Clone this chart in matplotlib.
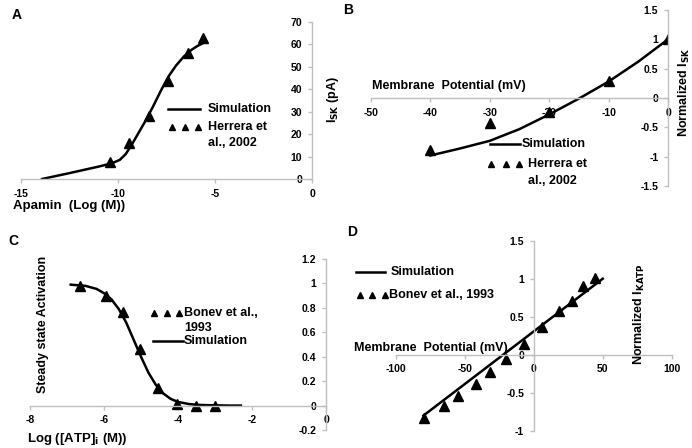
import matplotlib
matplotlib.use("Agg")
import matplotlib.pyplot as plt

plt.rcParams['font.family'] = ['Liberation Sans', 'DejaVu Sans']
plt.rcParams['font.weight'] = 'bold'

W, H = 692, 448

# panel A: apamin dose response
a_sim_x = [-13.9, -12.5, -11.0, -10.3, -9.9, -9.6, -9.3, -9.0, -8.6, -8.2, -7.8, -7.4, -7.0, -6.6, -6.2, -5.9, -5.6]
a_sim_y = [0.0, 2.6, 5.5, 7.0, 8.5, 11.0, 15.0, 19.5, 25.5, 32.0, 39.0, 45.5, 50.5, 54.5, 57.5, 59.2, 60.5]
a_exp_x = [-10.4, -9.4, -8.4, -7.4, -6.4, -5.6]
a_exp_y = [7.4, 15.9, 28.2, 43.6, 56.0, 62.6]

# panel B: SK IV relation
b_sim_x = [-40, -35, -30, -25, -20, -15, -10, -5, 0]
b_sim_y = [-0.98, -0.86, -0.73, -0.53, -0.28, -0.01, 0.28, 0.62, 1.0]
b_exp_x = [-40, -30, -20, -10, 0]
b_exp_y = [-0.89, -0.43, -0.245, 0.295, 1.0]

# panel C: ATP inhibition
c_sim_x = [-6.9, -6.5, -6.2, -6.0, -5.8, -5.6, -5.4, -5.2, -5.0, -4.8, -4.6, -4.4, -4.2, -4.0, -3.7, -3.4, -3.0, -2.6, -2.3]
c_sim_y = [0.99, 0.98, 0.955, 0.92, 0.87, 0.79, 0.68, 0.54, 0.40, 0.27, 0.17, 0.10, 0.055, 0.03, 0.012, 0.005, 0.002, 0.0, 0.0]
c_exp_x = [-6.65, -5.95, -5.5, -5.03, -4.53, -4.03, -3.52, -3.0]
c_exp_y = [0.975, 0.893, 0.765, 0.465, 0.143, 0.014, 0.0, 0.0]

# panel D: KATP IV relation
d_sim_x = [-80, 50]
d_sim_y = [-0.8, 1.0]
d_exp_x = [-80, -65, -55, -42, -32, -20, -7, 6, 18, 28, 36, 44]
d_exp_y = [-0.833, -0.67, -0.54, -0.386, -0.232, -0.057, 0.141, 0.36, 0.571, 0.71, 0.9, 1.01]

gray = '#bfbfbf'


def make_axes(fig, x0, x1, y0, y1):
    # pixel box -> figure fraction
    return fig.add_axes([x0 / W, 1 - y1 / H, (x1 - x0) / W, (y1 - y0) / H])


def style(ax, xlim, ylim, xticks, yticks):
    ax.set_xlim(*xlim)
    ax.set_ylim(*ylim)
    ax.patch.set_alpha(0)
    for s in ['top', 'right']:
        ax.spines[s].set_visible(False)
    ax.spines['left'].set_position(('data', 0))
    ax.spines['bottom'].set_position(('data', 0))
    for s in ['left', 'bottom']:
        ax.spines[s].set_color(gray)
        ax.spines[s].set_linewidth(1.0)
    ax.set_xticks(xticks)
    ax.set_yticks(yticks)
    ax.tick_params(length=3, width=1, color=gray, labelsize=7.5, pad=4)
    ax.set_xticklabels([f"{t:g}" for t in xticks], fontweight='bold')
    ax.set_yticklabels([f"{t:g}" for t in yticks], fontweight='bold')


def legend_line(fig, x0, x1, y):
    fig.add_artist(plt.Line2D([x0 / W, x1 / W], [1 - y / H, 1 - y / H], color='black', lw=1.8))


def legend_tris(fig, xs, y):
    fig.add_artist(plt.Line2D([x / W for x in xs], [1 - y / H] * len(xs), ls='none',
                              marker='^', color='black', markersize=5))


def ftext(fig, x, y, s, size=9, **kw):
    fig.text(x / W, 1 - y / H, s, fontsize=size, fontweight='bold', va='center', **kw)


fig = plt.figure(figsize=(6.92, 4.48), dpi=100)

# A
ax = make_axes(fig, 20.7, 312, 21.7, 179)
style(ax, (-15, 0), (0, 70), [-15, -10, -5, 0], list(range(0, 71, 10)))
ax.plot(a_sim_x, a_sim_y, color='black', lw=1.8)
ax.plot(a_exp_x, a_exp_y, ls='none', marker='^', color='black', markersize=7)
ftext(fig, 12, 15, 'A', size=10)
ftext(fig, 13, 206, 'Apamin  (Log (M))', size=9.5)
ftext(fig, 333, 100, r'I$_{\mathbf{SK}}$ (pA)', rotation=90, ha='center')
legend_line(fig, 168, 200, 109)
ftext(fig, 208, 109, 'Simulation')
legend_tris(fig, [172, 185, 198], 127)
ftext(fig, 208, 127, 'Herrera et')
ftext(fig, 208, 143, 'al., 2002')

# B
ax = make_axes(fig, 371, 668, 10, 186)
style(ax, (-50, 0), (-1.5, 1.5), [-50, -40, -30, -20, -10, 0], [-1.5, -1, -0.5, 0, 0.5, 1, 1.5])
ax.plot(b_sim_x, b_sim_y, color='black', lw=1.8)
ax.plot(b_exp_x, b_exp_y, ls='none', marker='^', color='black', markersize=7)
ftext(fig, 343, 10, 'B', size=10)
ftext(fig, 372, 86, 'Membrane  Potential (mV)')
ftext(fig, 684, 92, r'Normalized I$_{\mathbf{SK}}$', rotation=90, ha='center')
legend_line(fig, 490, 520, 144)
ftext(fig, 522, 144, 'Simulation')
legend_tris(fig, [491, 506, 519], 164)
ftext(fig, 528, 164, 'Herrera et')
ftext(fig, 528, 181, 'al., 2002')

# C
ax = make_axes(fig, 30, 326, 259, 430)
style(ax, (-8, 0), (-0.2, 1.2), [-8, -6, -4, -2, 0], [-0.2, 0, 0.2, 0.4, 0.6, 0.8, 1, 1.2])
ax.plot(c_sim_x, c_sim_y, color='black', lw=1.8)
ax.plot(c_exp_x, c_exp_y, ls='none', marker='^', color='black', markersize=7)
ftext(fig, 8, 241, 'C', size=10)
ftext(fig, 27, 439, r'Log ([ATP]$_{\mathbf{i}}$ (M))', size=9.5)
ftext(fig, 43, 324, 'Steady state Activation', rotation=90, ha='center')
legend_tris(fig, [154, 167, 179], 313)
ftext(fig, 184, 313, 'Bonev et al.,')
ftext(fig, 184, 328, '1993')
legend_line(fig, 153, 183, 341)
ftext(fig, 184, 341, 'Simulation')

# D
ax = make_axes(fig, 396, 671.7, 240.7, 430.7)
style(ax, (-100, 100), (-1, 1.5), [-100, -50, 0, 50, 100], [-1, -0.5, 0, 0.5, 1, 1.5])
ax.plot(d_sim_x, d_sim_y, color='black', lw=1.8)
ax.plot(d_exp_x, d_exp_y, ls='none', marker='^', color='black', markersize=7)
ftext(fig, 347, 232, 'D', size=10)
ftext(fig, 354, 348, 'Membrane  Potential (mV)')
ftext(fig, 639, 314, r'Normalized I$_{\mathbf{KATP}}$', rotation=90, ha='center')
legend_line(fig, 356, 385, 272)
ftext(fig, 391, 272, 'Simulation')
legend_tris(fig, [360, 372, 385], 295)
ftext(fig, 389, 295, 'Bonev et al., 1993')

fig.savefig('out.png', dpi=100)
